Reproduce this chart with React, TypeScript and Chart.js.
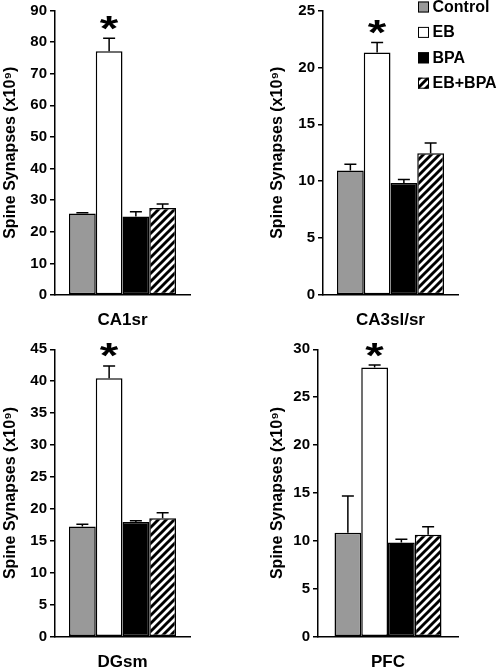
import React, { useEffect, useRef } from 'react';
import { Chart, registerables } from 'chart.js';

Chart.register(...registerables);

// ---- data ----
const groups = ['Control', 'EB', 'BPA', 'EB+BPA'];
const regions = ['CA1sr', 'CA3sl/sr', 'DGsm', 'PFC'];
const ca1srMeans = [25.8, 77.1, 24.8, 27.5];
const ca1srErrors = [0.25, 4.1, 1.5, 1.3];
const ca3Means = [10.95, 21.3, 9.85, 12.45];
const ca3Errors = [0.55, 0.88, 0.3, 0.9];
const dgsmMeans = [17.25, 40.45, 17.95, 18.55];
const dgsmErrors = [0.35, 1.95, 0.2, 0.85];
const pfcMeans = [10.85, 28.1, 9.82, 10.65];
const pfcErrors = [3.83, 0.25, 0.35, 0.84];
const yMaxes = [90, 25, 45, 30];
const ySteps = [10, 5, 5, 5];
const yTitle = 'Spine Synapses (x10⁹)';
const significant = [false, true, false, false];

const panelMeans = [ca1srMeans, ca3Means, dgsmMeans, pfcMeans];
const panelErrors = [ca1srErrors, ca3Errors, dgsmErrors, pfcErrors];

// ---- layout (pixels) ----
const layouts = [
  { x: 0, y: 0, w: 250, h: 334, areaLeft: 55, areaRight: 190, areaTop: 7, areaBottom: 295, yTitlePad: 1.4, xTitlePad: 3.3, legend: false },
  { x: 250, y: 0, w: 250, h: 334, areaLeft: 73, areaRight: 208, areaTop: 7, areaBottom: 295, yTitlePad: 18.4, xTitlePad: 3.3, legend: true },
  { x: 0, y: 334, w: 250, h: 334, areaLeft: 55, areaRight: 190, areaTop: 15.3, areaBottom: 302.7, yTitlePad: 1.4, xTitlePad: -4.7, legend: false },
  { x: 250, y: 334, w: 250, h: 334, areaLeft: 68, areaRight: 208, areaTop: 15.3, areaBottom: 302.7, yTitlePad: 18.4, xTitlePad: -4.7, legend: false },
];

const FONT = "'Liberation Sans', Arial, Helvetica, sans-serif";
const BAR_WIDTH_TOTAL = 107;

function makeHatch(): CanvasPattern | string {
  const c = document.createElement('canvas');
  const s = 8;
  c.width = s;
  c.height = s;
  const g = c.getContext('2d');
  if (!g) return '#888';
  g.fillStyle = '#fff';
  g.fillRect(0, 0, s, s);
  g.strokeStyle = '#000';
  g.lineWidth = 2.9;
  g.beginPath();
  g.moveTo(-2, s + 2);
  g.lineTo(s + 2, -2);
  g.moveTo(-2, 2);
  g.lineTo(2, -2);
  g.moveTo(s - 2, s + 2);
  g.lineTo(s + 2, s - 2);
  g.stroke();
  return g.createPattern(c, 'repeat') || '#888';
}

function Panel({ index }: { index: number }) {
  const ref = useRef<HTMLCanvasElement | null>(null);
  const L = layouts[index];

  useEffect(() => {
    const canvas = ref.current;
    if (!canvas) return;
    const means = panelMeans[index];
    const errors = panelErrors[index];
    const fills: (string | CanvasPattern)[] = ['#999999', '#ffffff', '#000000', makeHatch()];
    const cp = BAR_WIDTH_TOTAL / (L.areaRight - L.areaLeft);

    const errorBarPlugin = {
      id: 'errorBars',
      afterDatasetsDraw(chart: any) {
        const ctx = chart.ctx;
        const ys = chart.scales.y;
        ctx.save();
        ctx.strokeStyle = '#000';
        ctx.lineWidth = 1.5;
        chart.data.datasets.forEach((ds: any, i: number) => {
          const el = chart.getDatasetMeta(i).data[0];
          if (!el) return;
          const top = ys.getPixelForValue(means[i] + errors[i]);
          ctx.beginPath();
          ctx.moveTo(el.x, el.y);
          ctx.lineTo(el.x, top);
          ctx.moveTo(el.x - 6, top);
          ctx.lineTo(el.x + 6, top);
          ctx.stroke();
        });
        ctx.restore();
      },
    };

    const asteriskPlugin = {
      id: 'asterisk',
      afterDraw(chart: any) {
        const ctx = chart.ctx;
        const ys = chart.scales.y;
        significant.forEach((sig, i) => {
          if (!sig) return;
          const el = chart.getDatasetMeta(i).data[0];
          if (!el) return;
          const top = ys.getPixelForValue(means[i] + errors[i]);
          ctx.save();
          ctx.fillStyle = '#000';
          ctx.font = `bold 40px ${FONT}`;
          ctx.textAlign = 'left';
          ctx.textBaseline = 'alphabetic';
          const m = ctx.measureText('*');
          const bl = m.actualBoundingBoxLeft;
          const br = m.actualBoundingBoxRight;
          const a = m.actualBoundingBoxAscent;
          const d = m.actualBoundingBoxDescent;
          const gw = bl + br;
          const gh = a + d;
          const cy = top - 16;
          ctx.translate(el.x, cy);
          ctx.scale(19 / gw, 14 / gh);
          ctx.fillText('*', -(br - bl) / 2, (a - d) / 2);
          ctx.restore();
        });
      },
    };

    const legendPlugin = {
      id: 'boxLegend',
      afterDraw(chart: any) {
        if (!L.legend) return;
        const ctx = chart.ctx;
        ctx.save();
        ctx.font = `bold 16px ${FONT}`;
        ctx.textBaseline = 'middle';
        ctx.textAlign = 'left';
        chart.data.datasets.forEach((ds: any, i: number) => {
          const cy = 7 + i * 25.4;
          ctx.fillStyle = ds.backgroundColor;
          ctx.fillRect(168, cy - 5.5, 11, 11);
          ctx.strokeStyle = '#000';
          ctx.lineWidth = 1;
          ctx.strokeRect(168.5, cy - 5, 10, 10);
          ctx.fillStyle = '#000';
          ctx.fillText(ds.label, 182.5, cy + 0.5);
        });
        ctx.restore();
      },
    };

    const chart = new Chart(canvas, {
      type: 'bar',
      data: {
        labels: [regions[index]],
        datasets: groups.map((g, i) => ({
          label: g,
          data: [means[i]],
          backgroundColor: fills[i] as any,
          borderColor: '#000',
          borderWidth: 1.5,
          borderSkipped: false,
          barPercentage: 1,
          categoryPercentage: cp,
        })),
      },
      options: {
        animation: false,
        responsive: false,
        devicePixelRatio: 1,
        layout: { padding: { left: 0, right: L.w - L.areaRight, top: L.areaTop, bottom: 0 } },
        plugins: { legend: { display: false }, tooltip: { enabled: false } },
        scales: {
          x: {
            ticks: { display: false },
            grid: { display: false },
            border: { display: true, color: '#000', width: 1.5 },
            title: {
              display: true,
              text: regions[index],
              color: '#000',
              font: { family: FONT, size: 17, weight: 'bold' },
              padding: { top: 0, bottom: L.xTitlePad },
            },
            afterFit: (s: any) => {
              s.height = L.h - L.areaBottom;
            },
          },
          y: {
            min: 0,
            max: yMaxes[index],
            ticks: {
              stepSize: ySteps[index],
              color: '#000',
              padding: 3,
              font: { family: FONT, size: 15, weight: 'bold', lineHeight: 1 },
            },
            grid: { drawOnChartArea: false, drawTicks: true, tickLength: 5, color: '#000', lineWidth: 1.5 },
            border: { display: true, color: '#000', width: 1.5 },
            title: {
              display: true,
              text: yTitle,
              color: '#000',
              font: { family: FONT, size: 16, weight: 'bold' },
              padding: { top: L.yTitlePad, bottom: 0 },
            },
            afterFit: (s: any) => {
              s.width = L.areaLeft;
            },
          },
        },
      } as any,
      plugins: [errorBarPlugin, asteriskPlugin, legendPlugin],
    });
    return () => chart.destroy();
  }, [index]);

  return (
    <canvas
      ref={ref}
      width={L.w}
      height={L.h}
      style={{ position: 'absolute', left: L.x, top: L.y, width: L.w, height: L.h, display: 'block' }}
    />
  );
}

export default function App() {
  return (
    <div style={{ position: 'absolute', left: 0, top: 0, width: 500, height: 668, background: '#fff' }}>
      {regions.map((r, i) => (
        <Panel key={r} index={i} />
      ))}
    </div>
  );
}
